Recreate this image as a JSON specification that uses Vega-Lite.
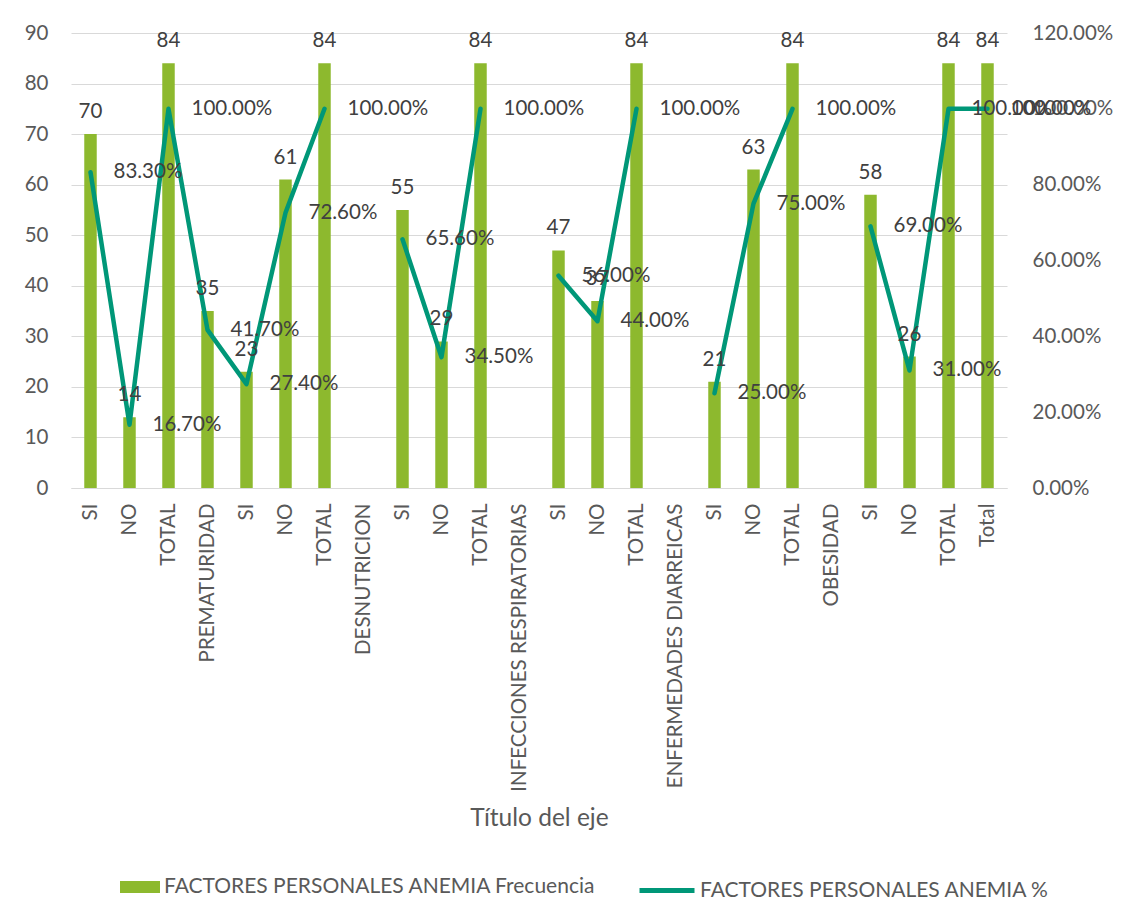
{
  "$schema": "https://vega.github.io/schema/vega-lite/v6.json",
  "autosize": {"type": "none"},
  "padding": {"left": 71, "top": 33, "right": 124, "bottom": 435},
  "width": 936,
  "height": 455,
  "background": "#ffffff",
  "config": {
    "font": "Lato",
    "view": {"stroke": null},
    "axis": {"labelFont": "Lato", "labelFontSize": 20.5, "labelColor": "#595959", "titleFont": "Lato", "titleFontSize": 24.5, "titleColor": "#595959", "titleFontWeight": "normal", "ticks": false, "labelLimit": 0},
    "legend": {"labelFont": "Lato", "labelFontSize": 21, "labelColor": "#595959", "padding": 0, "title": null, "labelLimit": 0}
  },
  "data": {
    "values": [
      {"k": "01|SI", "freq": 70, "pct": 0.833},
      {"k": "02|NO", "freq": 14, "pct": 0.167},
      {"k": "03|TOTAL", "freq": 84, "pct": 1.0},
      {"k": "04|PREMATURIDAD", "freq": 35, "pct": 0.417},
      {"k": "05|SI", "freq": 23, "pct": 0.274},
      {"k": "06|NO", "freq": 61, "pct": 0.726},
      {"k": "07|TOTAL", "freq": 84, "pct": 1.0},
      {"k": "08|DESNUTRICION", "freq": null, "pct": null},
      {"k": "09|SI", "freq": 55, "pct": 0.656},
      {"k": "10|NO", "freq": 29, "pct": 0.345},
      {"k": "11|TOTAL", "freq": 84, "pct": 1.0},
      {"k": "12|INFECCIONES RESPIRATORIAS", "freq": null, "pct": null},
      {"k": "13|SI", "freq": 47, "pct": 0.56},
      {"k": "14|NO", "freq": 37, "pct": 0.44},
      {"k": "15|TOTAL", "freq": 84, "pct": 1.0},
      {"k": "16|ENFERMEDADES DIARREICAS", "freq": null, "pct": null},
      {"k": "17|SI", "freq": 21, "pct": 0.25},
      {"k": "18|NO", "freq": 63, "pct": 0.75},
      {"k": "19|TOTAL", "freq": 84, "pct": 1.0},
      {"k": "20|OBESIDAD", "freq": null, "pct": null},
      {"k": "21|SI", "freq": 58, "pct": 0.69},
      {"k": "22|NO", "freq": 26, "pct": 0.31},
      {"k": "23|TOTAL", "freq": 84, "pct": 1.0},
      {"k": "24|Total", "freq": 84, "pct": 1.0}
    ]
  },
  "encoding": {
    "x": {
      "field": "k",
      "type": "ordinal",
      "sort": null,
      "scale": {
        "type": "band",
        "domain": ["01|SI", "02|NO", "03|TOTAL", "04|PREMATURIDAD", "05|SI", "06|NO", "07|TOTAL", "08|DESNUTRICION", "09|SI", "10|NO", "11|TOTAL", "12|INFECCIONES RESPIRATORIAS", "13|SI", "14|NO", "15|TOTAL", "16|ENFERMEDADES DIARREICAS", "17|SI", "18|NO", "19|TOTAL", "20|OBESIDAD", "21|SI", "22|NO", "23|TOTAL", "24|Total"],
        "paddingInner": 0.68,
        "paddingOuter": 0.34
      },
      "axis": {
        "labelExpr": "substring(datum.value, 3)",
        "labelAngle": -90,
        "labelPadding": 15,
        "labelLimit": 0,
        "labelFontSize": 20.5,
        "domain": true,
        "domainColor": "#D9D9D9",
        "domainWidth": 1,
        "grid": false,
        "title": "Título del eje",
        "titleFontSize": 24.5,
        "titleFont": "Lato",
        "titleFontWeight": "normal",
        "titleColor": "#595959",
        "titleY": 337,
        "titleBaseline": "alphabetic"
      }
    }
  },
  "layer": [
    {
      "mark": {"type": "bar"},
      "encoding": {
        "y": {
          "field": "freq", "type": "quantitative",
          "scale": {"domain": [0, 90], "nice": false, "zero": true},
          "axis": {"orient": "left", "values": [0, 10, 20, 30, 40, 50, 60, 70, 80, 90], "domain": false, "grid": true, "gridColor": "#D9D9D9", "gridWidth": 1, "labelPadding": 23, "title": null}
        },
        "color": {
          "datum": "FACTORES PERSONALES ANEMIA Frecuencia",
          "scale": {"range": ["#8DB92E"]},
          "legend": {"orient": "none", "legendX": 49, "legendY": 834, "symbolType": "M-1,-0.3H1V0.3H-1Z", "symbolSize": 1600, "symbolStrokeWidth": 0, "labelOffset": 4, "labelLimit": 0}
        }
      }
    },
    {
      "mark": {"type": "line", "strokeWidth": 4.5, "strokeJoin": "round", "strokeCap": "round"},
      "encoding": {
        "y": {
          "field": "pct", "type": "quantitative",
          "scale": {"domain": [0, 1.2], "nice": false, "zero": true},
          "axis": {"orient": "right", "values": [0, 0.2, 0.4, 0.6, 0.8, 1.0, 1.2], "format": ".2%", "domain": false, "grid": false, "labelPadding": 25, "title": null}
        },
        "stroke": {
          "datum": "FACTORES PERSONALES ANEMIA %",
          "scale": {"range": ["#009778"]},
          "legend": {"orient": "none", "legendX": 566, "legendY": 827.5, "symbolType": "stroke", "symbolSize": 3025, "symbolStrokeWidth": 5, "labelOffset": 3, "labelLimit": 0}
        }
      }
    },
    {
      "mark": {"type": "text", "baseline": "alphabetic", "align": "center", "dy": -16, "fontSize": 20.5, "color": "#404040"},
      "encoding": {
        "y": {"field": "freq", "type": "quantitative", "scale": {"domain": [0, 90], "nice": false}, "axis": null},
        "text": {"field": "freq", "type": "quantitative"}
      }
    },
    {
      "mark": {"type": "text", "baseline": "middle", "align": "left", "dx": 23, "fontSize": 20.5, "color": "#404040"},
      "encoding": {
        "y": {"field": "pct", "type": "quantitative", "scale": {"domain": [0, 1.2], "nice": false}, "axis": null},
        "text": {"field": "pct", "type": "quantitative", "format": ".2%"}
      }
    }
  ],
  "resolve": {"scale": {"y": "independent", "color": "independent"}}
}
